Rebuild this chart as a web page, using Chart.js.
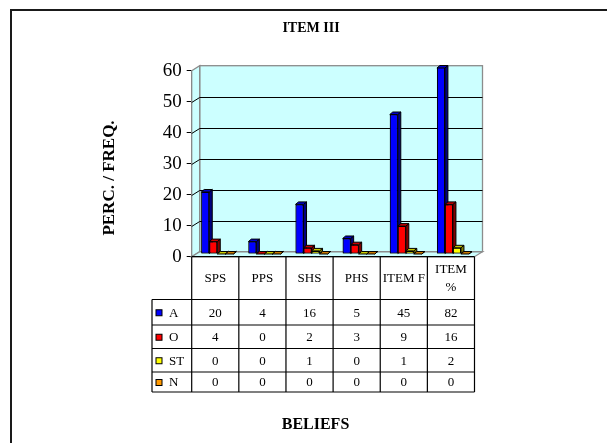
<!DOCTYPE html>
<html>
<head>
<meta charset="utf-8">
<script src="https://cdn.jsdelivr.net/npm/chart.js@4/dist/chart.umd.min.js"></script>
<style>
  html, body { margin: 0; padding: 0; background: #fff; }
  #wrap { width: 607px; height: 443px; position: relative; }
</style>
</head>
<body>
<div id="wrap"><canvas id="c"></canvas></div>
<script>
// Categories, series and axis ticks
const categories = ['SPS', 'PPS', 'SHS', 'PHS', 'ITEM F', ['ITEM', '%']];
const seriesNames = ['A', 'O', 'ST', 'N'];
const valuesA  = [20, 4, 16, 5, 45, 82];
const valuesO  = [4, 0, 2, 3, 9, 16];
const valuesST = [0, 0, 1, 0, 1, 2];
const valuesN  = [0, 0, 0, 0, 0, 0];
const yTicks = [0, 10, 20, 30, 40, 50, 60];
const chartTitle = 'ITEM III';
const yTitle = 'PERC. / FREQ.';
const xTitle = 'BELIEFS';

// Styling
const FONT = "'Liberation Serif', 'Times New Roman', serif";
const frontColors = ['#0000FF', '#FF0000', '#FFFF00', '#FF9900'];
const sideColors  = ['#000080', '#800000', '#808000', '#805000'];
const topColors   = ['#0000C8', '#C80000', '#C8C800', '#C87800'];
const WALL = '#CCFFFF';
const EDGE = '#8C8C8C';
const WALL_DX = 8, WALL_DY = -5;      // depth of the walls / floor
const SHIFT_X = 2, SHIFT_Y = -2.7;    // bars sit a bit behind the front plane
const BAR_DX = 3, BAR_DY = -2.5;      // depth of each bar
const ROW_LINES = [299.5, 325, 348.5, 372, 392]; // data-table row boundaries
const TABLE_LEFT = 152;

function poly(ctx, pts) {
  ctx.beginPath();
  ctx.moveTo(pts[0][0], pts[0][1]);
  for (let i = 1; i < pts.length; i++) ctx.lineTo(pts[i][0], pts[i][1]);
  ctx.closePath();
}

// Walls, floor and gridlines behind the bars; then shift the bar layer back
const depthPlugin = {
  id: 'depth',
  beforeDatasetsDraw(chart) {
    const { ctx, chartArea: a, scales: { y } } = chart;
    const bl = a.left + WALL_DX, br = a.right + WALL_DX;
    const bt = a.top + WALL_DY, bb = a.bottom + WALL_DY;
    ctx.save();
    ctx.fillStyle = WALL;
    ctx.strokeStyle = EDGE;
    ctx.lineWidth = 1.3;
    // back wall
    ctx.fillRect(bl, bt, br - bl, bb - bt);
    // side wall
    poly(ctx, [[a.left, a.top], [bl, bt], [bl, bb], [a.left, a.bottom]]);
    ctx.fill(); ctx.stroke();
    // floor
    poly(ctx, [[a.left, a.bottom], [a.right, a.bottom], [br, bb], [bl, bb]]);
    ctx.fill(); ctx.stroke();
    ctx.strokeRect(bl, bt, br - bl, bb - bt);
    // gridlines on back and side wall
    ctx.strokeStyle = '#000';
    ctx.lineWidth = 1;
    yTicks.forEach(v => {
      if (v === y.min || v === y.max) return;
      const py = Math.round(y.getPixelForValue(v)) + 0.5;
      ctx.beginPath();
      ctx.moveTo(a.left, py);
      ctx.lineTo(bl, py + WALL_DY);
      ctx.lineTo(br, py + WALL_DY);
      ctx.stroke();
    });
    ctx.restore();
    ctx.save();
    ctx.translate(SHIFT_X, SHIFT_Y);
  },
  afterDatasetsDraw(chart) {
    const { ctx, chartArea: a } = chart;
    const metas = chart.data.datasets.map((d, i) => chart.getDatasetMeta(i));
    const n = chart.data.labels.length;
    ctx.lineWidth = 1;
    for (let j = 0; j < n; j++) {
      metas.forEach((m, i) => {
        const el = m.data[j];
        const { x, y, base, width } = el.getProps(['x', 'y', 'base', 'width'], true);
        const left = x - width / 2, right = x + width / 2;
        const top = Math.max(y, a.top);
        // front face, redrawn in left-to-right order
        ctx.save();
        ctx.beginPath();
        ctx.rect(a.left, a.top, a.right - a.left, a.bottom - a.top);
        ctx.clip();
        el.draw(ctx);
        ctx.restore();
        ctx.strokeStyle = '#000';
        // side face
        poly(ctx, [[right, top], [right + BAR_DX, top + BAR_DY], [right + BAR_DX, base + BAR_DY], [right, base]]);
        ctx.fillStyle = sideColors[i];
        ctx.fill(); ctx.stroke();
        // top face
        poly(ctx, [[left, top], [left + BAR_DX, top + BAR_DY], [right + BAR_DX, top + BAR_DY], [right, top]]);
        ctx.fillStyle = topColors[i];
        ctx.fill(); ctx.stroke();
      });
    }
    ctx.restore();
  }
};

// Frame, titles and the data table under the plot
const tablePlugin = {
  id: 'dataTable',
  afterDraw(chart) {
    const { ctx, chartArea: a } = chart;
    const labels = chart.data.labels;
    const n = labels.length;
    const cw = (a.right - a.left) / n;
    ctx.save();

    // outer frame
    ctx.strokeStyle = '#1a1a1a';
    ctx.lineWidth = 2;
    ctx.beginPath();
    ctx.moveTo(11, 445); ctx.lineTo(11, 10); ctx.lineTo(610, 10);
    ctx.stroke();

    // titles
    ctx.fillStyle = '#000';
    ctx.textAlign = 'center';
    ctx.textBaseline = 'middle';
    ctx.font = 'bold 14px ' + FONT;
    ctx.fillText(chartTitle, 311, 28);
    ctx.font = 'bold 16px ' + FONT;
    ctx.fillText(xTitle, 315.5, 424.5);
    ctx.save();
    ctx.translate(110, 178);
    ctx.rotate(-Math.PI / 2);
    ctx.font = 'bold 17px ' + FONT;
    ctx.fillText(yTitle, 0, 0);
    ctx.restore();

    // table grid
    ctx.strokeStyle = '#000';
    ctx.lineWidth = 1.2;
    const bottom = ROW_LINES[ROW_LINES.length - 1];
    ctx.beginPath();
    ctx.moveTo(a.left, a.bottom); ctx.lineTo(a.right, a.bottom);
    for (let k = 0; k <= n; k++) {
      const xx = a.left + k * cw;
      ctx.moveTo(xx, a.bottom); ctx.lineTo(xx, bottom);
    }
    ctx.moveTo(TABLE_LEFT, ROW_LINES[0]); ctx.lineTo(TABLE_LEFT, bottom);
    ROW_LINES.forEach(ry => { ctx.moveTo(TABLE_LEFT, ry); ctx.lineTo(a.right, ry); });
    ctx.stroke();

    // header row: category names
    ctx.font = '13px ' + FONT;
    const headMid = (a.bottom + ROW_LINES[0]) / 2 + 0.5;
    labels.forEach((lab, k) => {
      const cx = a.left + (k + 0.5) * cw;
      const lines = Array.isArray(lab) ? lab : [lab];
      const lh = 18.5;
      lines.forEach((t, li) => {
        ctx.fillText(t, cx, headMid + (li - (lines.length - 1) / 2) * lh);
      });
    });

    // value rows with legend keys
    chart.data.datasets.forEach((ds, i) => {
      const cy = (ROW_LINES[i] + ROW_LINES[i + 1]) / 2 + 1;
      ctx.fillStyle = frontColors[i];
      ctx.fillRect(156, cy - 3.5, 6, 6);
      ctx.lineWidth = 1;
      ctx.strokeStyle = '#000';
      ctx.strokeRect(156, cy - 3.5, 6, 6);
      ctx.fillStyle = '#000';
      ctx.textAlign = 'left';
      ctx.fillText(ds.label, 169, cy);
      ctx.textAlign = 'center';
      ds.data.forEach((v, k) => {
        ctx.fillText(String(v), a.left + (k + 0.5) * cw, cy);
      });
    });
    ctx.restore();
  }
};

const seriesValues = [valuesA, valuesO, valuesST, valuesN];

new Chart(document.getElementById('c'), {
  type: 'bar',
  data: {
    labels: categories,
    datasets: seriesNames.map((name, i) => ({
      label: name,
      data: seriesValues[i],
      backgroundColor: frontColors[i],
      borderColor: '#000',
      borderWidth: 1,
      borderSkipped: false,
      clip: 0,
      categoryPercentage: 0.68,
      barPercentage: 1.0
    }))
  },
  options: {
    responsive: true,
    maintainAspectRatio: false,
    animation: false,
    events: [],
    layout: { padding: { left: 0, right: 132.5, top: 70.7, bottom: 186.3 } },
    plugins: { legend: { display: false }, title: { display: false }, tooltip: { enabled: false } },
    scales: {
      x: { display: false },
      y: {
        min: 0,
        max: 60,
        afterFit(scale) { scale.width = 191.7; },
        afterBuildTicks(scale) { scale.ticks = yTicks.map(v => ({ value: v })); },
        grid: { drawOnChartArea: false, drawTicks: true, tickLength: 5, color: '#000', lineWidth: 1 },
        border: { display: true, color: '#000', width: 1.3 },
        ticks: { font: { family: FONT, size: 19 }, color: '#000', padding: 5 }
      }
    }
  },
  plugins: [depthPlugin, tablePlugin]
});
</script>
</body>
</html>
